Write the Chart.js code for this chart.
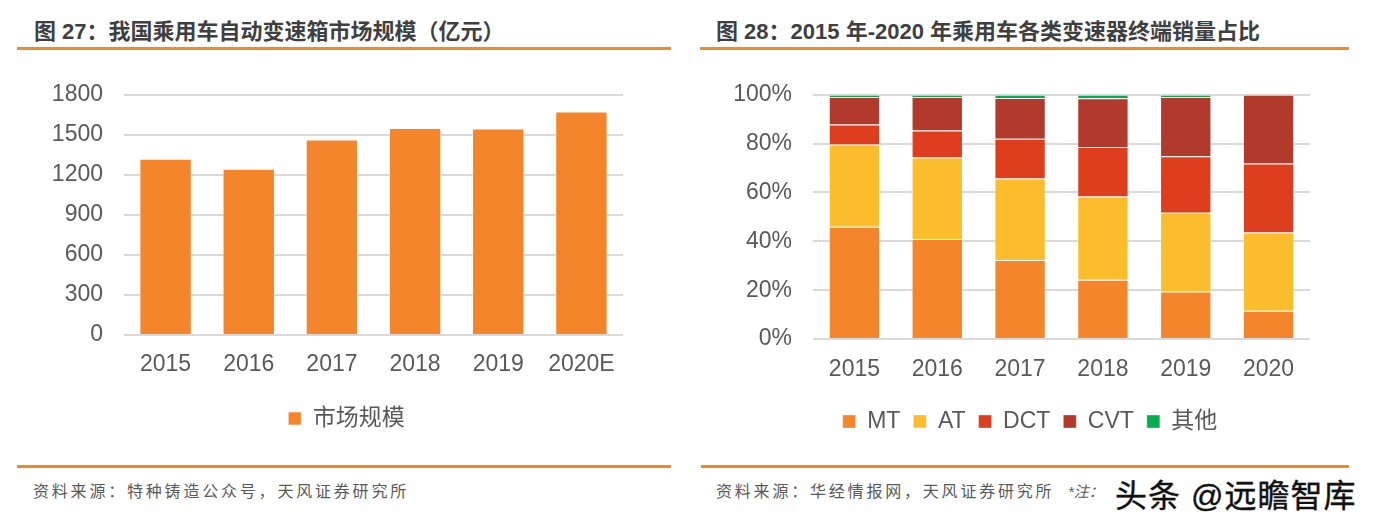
<!DOCTYPE html>
<html>
<head>
<meta charset="utf-8">
<script src="https://cdn.jsdelivr.net/npm/chart.js@4/dist/chart.umd.min.js"></script>
<style>
  html, body { margin: 0; padding: 0; background: #fff; }
  body { width: 1383px; height: 522px; position: relative; overflow: hidden;
         font-family: "Liberation Sans", "Noto Sans CJK SC", sans-serif; }
  .title { position: absolute; top: 13px; font-size: 22px; font-weight: bold; color: #3f3f3f; white-space: nowrap; }
  .rule { position: absolute; height: 3px; background: #f08a24; }
  .note { position: absolute; top: 478px; font-size: 16px; color: #595959; white-space: nowrap; letter-spacing: 2.8px; }
  .wm { position: absolute; top: 470px; left: 1115px; font-size: 32px; color: #111; white-space: nowrap; letter-spacing: 1px;
        -webkit-text-stroke: 0.4px #111; text-shadow: 0 0 2px #fff, 0 0 2px #fff; }
  .box { position: absolute; top: 60px; height: 390px; }
</style>
</head>
<body>
<div class="title" style="left:34px">图 27：我国乘用车自动变速箱市场规模（亿元）</div>
<div class="title" style="left:716px">图 28：2015 年-2020 年乘用车各类变速器终端销量占比</div>
<div class="rule" style="left:17px; width:654px; top:47px"></div>
<div class="rule" style="left:700px; width:649px; top:47px"></div>
<div class="rule" style="left:17px; width:654px; top:465px"></div>
<div class="rule" style="left:701px; width:648px; top:465px"></div>
<div class="note" style="left:33px">资料来源：特种铸造公众号，天风证券研究所</div>
<div class="note" style="left:716px">资料来源：华经情报网，天风证券研究所</div>
<div class="note" style="left:1068px; top:480px; font-style:italic; font-size:15px; letter-spacing:0">*注：</div>
<div class="wm">头条 @远瞻智库</div>

<div class="box" style="left:0; width:690px"><canvas id="chart-size"></canvas></div>
<div class="box" style="left:690px; width:693px"><canvas id="chart-share"></canvas></div>

<script>
// 图 27 — 市场规模（亿元）
const sizeYears = ['2015', '2016', '2017', '2018', '2019', '2020E'];
const marketSize = [1320, 1245, 1465, 1552, 1547, 1675];

// 图 28 — 各类变速器销量占比（%）
const shareYears = ['2015', '2016', '2017', '2018', '2019', '2020'];
const mtShare = [46.0, 41.0, 32.3, 24.3, 19.5, 11.6];
const atShare = [33.6, 33.3, 33.4, 34.1, 32.2, 32.0];
const dctShare = [8.2, 11.1, 16.3, 20.2, 23.1, 28.3];
const cvtShare = [11.3, 13.7, 16.7, 20.0, 24.3, 28.1];
const otherShare = [0.9, 0.9, 1.3, 1.4, 0.9, 0];

const COLORS = {
  orange: '#f4852a',
  yellow: '#fbbd2b',
  red: '#de3e1e',
  brown: '#b13a2c',
  green: '#00ae4f',
  grid: '#d9d9d9',
  text: '#595959',
};
const FONT = '"Liberation Sans", "Noto Sans CJK SC", sans-serif';

Chart.defaults.font.family = FONT;
Chart.defaults.color = COLORS.text;

// nudge the legend sideways (Excel centres it on the plot incl. axis labels)
const legendShift = {
  id: 'legendShift',
  afterLayout(chart, args, opts) {
    const lg = chart.legend;
    if (!lg || !opts.dx) return;
    lg.left += opts.dx;
    lg.right += opts.dx;
  },
};

function baseOptions(opts) {
  return {
    responsive: true,
    maintainAspectRatio: false,
    animation: false,
    layout: { padding: opts.padding },
    scales: {
      x: {
        stacked: opts.stacked,
        grid: { display: false, drawTicks: false },
        border: { display: false },
        ticks: { padding: opts.xPad, font: { size: 23 }, color: COLORS.text },
        afterFit: (s) => { s.height = opts.xHeight; },
      },
      y: {
        stacked: opts.stacked,
        min: 0,
        max: opts.max,
        grid: { color: COLORS.grid, lineWidth: 2, drawTicks: false },
        border: { display: false },
        ticks: { stepSize: opts.step, padding: 21, font: { size: 23 }, color: COLORS.text, callback: opts.fmt },
        afterFit: (s) => { s.width = opts.yWidth; },
      },
    },
    plugins: {
      legend: {
        position: 'bottom',
        labels: { boxWidth: 13, boxHeight: 13, padding: 13, font: { size: 23 }, color: COLORS.text },
      },
      legendShift: { dx: opts.legendDx },
      tooltip: { enabled: false },
    },
  };
}

new Chart(document.getElementById('chart-size'), {
  type: 'bar',
  data: {
    labels: sizeYears,
    datasets: [{
      label: '市场规模',
      data: marketSize,
      backgroundColor: COLORS.orange,
      borderColor: 'rgba(255,255,255,0.6)',
      borderWidth: 1,
      categoryPercentage: 1,
      barPercentage: 0.63,
    }],
  },
  options: baseOptions({
    padding: { top: 33, right: 67, bottom: 10, left: 0 },
    stacked: false, max: 1800, step: 300, xPad: 16, xHeight: 59, yWidth: 124,
    fmt: (v) => v, legendDx: 35,
  }),
  plugins: [legendShift],
});

const shareSets = [
  ['MT', mtShare, COLORS.orange],
  ['AT', atShare, COLORS.yellow],
  ['DCT', dctShare, COLORS.red],
  ['CVT', cvtShare, COLORS.brown],
  ['其他', otherShare, COLORS.green],
];

new Chart(document.getElementById('chart-share'), {
  type: 'bar',
  data: {
    labels: shareYears,
    datasets: shareSets.map(([label, data, color]) => ({
      label,
      data,
      backgroundColor: color,
      borderColor: 'rgba(255,255,255,0.35)',
      borderWidth: 1,
      categoryPercentage: 1,
      barPercentage: 0.62,
    })),
  },
  options: baseOptions({
    padding: { top: 28, right: 73, bottom: 7, left: 0 },
    stacked: true, max: 100, step: 20, xPad: 17, xHeight: 58, yWidth: 123,
    fmt: (v) => v + '%', legendDx: 30,
  }),
  plugins: [legendShift],
});
</script>
</body>
</html>
